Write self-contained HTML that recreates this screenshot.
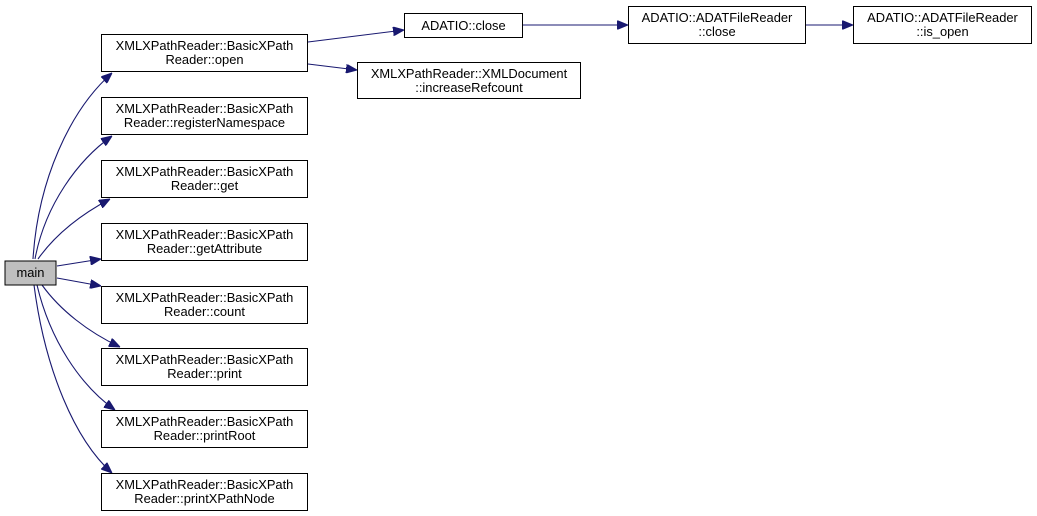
<!DOCTYPE html>
<html><head><meta charset="utf-8"><style>
html,body{margin:0;padding:0;background:#fff;width:1037px;height:516px;overflow:hidden}
text{font-family:"Liberation Sans",Arial,sans-serif;font-size:12.9px;fill:#000}
</style></head><body>
<svg width="1037" height="516" viewBox="0 0 1037 516" xmlns="http://www.w3.org/2000/svg">
<defs>
<marker id="a" markerWidth="11" markerHeight="9" refX="11" refY="4.5" orient="auto" markerUnits="userSpaceOnUse">
<polygon points="0,0 11,4.5 0,9" fill="#191970" stroke="#191970"/>
</marker>
</defs>
<g fill="none" stroke="#191970" stroke-width="1.1" marker-end="url(#a)">
<path d="M33,259 C38,180 70,110 112,73"/>
<path d="M35,259 C45,205 78,160 112,136"/>
<path d="M38,259 C55,235 80,215 110,199"/>
<path d="M57,266 L101,259"/>
<path d="M57,278 L101,286"/>
<path d="M42,285 C60,310 88,332 120,347"/>
<path d="M37,285 C50,340 80,385 115,410"/>
<path d="M34,285 C45,370 75,440 112,473"/>
<path d="M308,42 L404,30"/>
<path d="M308,64 L357,70"/>
<path d="M522,25 L628,25"/>
<path d="M805,25 L853,25"/>
</g>
<g stroke="#000" stroke-width="1" fill="#fff">
<rect x="5" y="261" width="51" height="24" fill="#bfbfbf"/>
<rect x="101.5" y="34.5" width="206" height="37"/>
<rect x="101.5" y="97.5" width="206" height="37"/>
<rect x="101.5" y="160.5" width="206" height="37"/>
<rect x="101.5" y="223.5" width="206" height="37"/>
<rect x="101.5" y="286.5" width="206" height="37"/>
<rect x="101.5" y="348.5" width="206" height="37"/>
<rect x="101.5" y="410.5" width="206" height="37"/>
<rect x="101.5" y="473.5" width="206" height="37"/>
<rect x="404.5" y="13.5" width="118" height="24"/>
<rect x="357.5" y="62.5" width="223" height="36"/>
<rect x="628.5" y="6.5" width="177" height="37"/>
<rect x="853.5" y="6.5" width="178" height="37"/>
</g>
<g text-anchor="middle">
<text x="30.5" y="277">main</text>
<text x="204.5" y="50">XMLXPathReader::BasicXPath</text><text x="204.5" y="64">Reader::open</text>
<text x="204.5" y="113">XMLXPathReader::BasicXPath</text><text x="204.5" y="127">Reader::registerNamespace</text>
<text x="204.5" y="176">XMLXPathReader::BasicXPath</text><text x="204.5" y="190">Reader::get</text>
<text x="204.5" y="239">XMLXPathReader::BasicXPath</text><text x="204.5" y="253">Reader::getAttribute</text>
<text x="204.5" y="302">XMLXPathReader::BasicXPath</text><text x="204.5" y="316">Reader::count</text>
<text x="204.5" y="364">XMLXPathReader::BasicXPath</text><text x="204.5" y="378">Reader::print</text>
<text x="204.5" y="426">XMLXPathReader::BasicXPath</text><text x="204.5" y="440">Reader::printRoot</text>
<text x="204.5" y="489">XMLXPathReader::BasicXPath</text><text x="204.5" y="503">Reader::printXPathNode</text>
<text x="463.5" y="30">ADATIO::close</text>
<text x="469" y="78">XMLXPathReader::XMLDocument</text><text x="469" y="92">::increaseRefcount</text>
<text x="717" y="22">ADATIO::ADATFileReader</text><text x="717" y="36">::close</text>
<text x="942.5" y="22">ADATIO::ADATFileReader</text><text x="942.5" y="36">::is_open</text>
</g>
</svg>
</body></html>
